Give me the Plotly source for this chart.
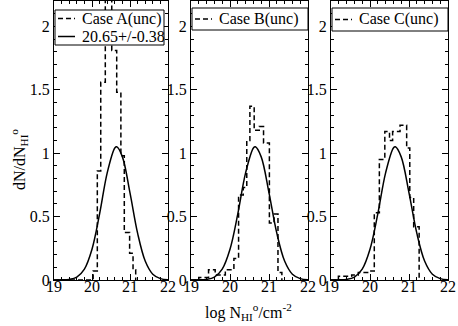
import plotly.graph_objects as go

# histogram edges / heights (dN/dN_HI per bin)
a_edges = [20.03, 20.14, 20.23, 20.35, 20.52, 20.65, 20.76, 20.85, 20.99, 21.08, 21.15]
a_vals = [0.07, 0.86, 1.56, 2.40, 1.81, 1.48, 0.98, 0.375, 0.21, 0.08]

b_edges = [19.20, 19.45, 19.62, 19.88, 20.10, 20.22, 20.34, 20.43, 20.51, 20.62, 20.75,
           20.86, 21.01, 21.13, 21.23, 21.33]
b_vals = [0.02, 0.08, 0.04, 0.08, 0.17, 0.67, 0.73, 1.10, 1.37, 1.18, 1.21, 1.08,
          0.45, 0.52, 0.06]

c_edges = [19.19, 19.53, 19.70, 19.98, 20.11, 20.24, 20.38, 20.50, 20.58, 20.77, 20.94,
           21.02, 21.12, 21.26]
c_vals = [0.03, 0.04, 0.06, 0.07, 0.53, 0.95, 1.17, 1.10, 1.17, 1.22, 1.04, 0.65, 0.42]

# fitted gaussian curve (20.65 +/- 0.38), read at a few points
fit_x = [19.0, 19.2, 19.4, 19.6, 19.8, 20.0, 20.2, 20.4, 20.6, 20.65, 20.8, 21.0,
         21.2, 21.4, 21.6, 21.8, 22.0]
fit_y = [0.0, 0.001, 0.005, 0.023, 0.086, 0.243, 0.521, 0.845, 1.041, 1.05, 0.971, 0.687,
         0.369, 0.150, 0.046, 0.011, 0.002]

case_names = ["Case A(unc)", "Case B(unc)", "Case C(unc)"]
fit_label = "20.65+/-0.38"

W, H = 458, 326
FONT = "Liberation Serif"
DASH = "5px,3px"

# panel pixel boxes (left, right)
panels_px = [(54, 168), (191, 308), (331, 448)]
top_px, bottom_px = 1, 280


def step_xy(edges, vals):
    xs = [19.0, edges[0]] + edges
    ys = [0.0, 0.0] + vals + [0.0]
    return xs, ys


def px_x(v):
    return v / W


def px_y(v):
    return 1 - v / H


fig = go.Figure()
hists = [(a_edges, a_vals), (b_edges, b_vals), (c_edges, c_vals)]

for i, (edges, vals) in enumerate(hists):
    ax = "" if i == 0 else str(i + 1)
    hx, hy = step_xy(edges, vals)
    fig.add_trace(go.Scatter(x=hx, y=hy, mode="lines", line_shape="hv",
                             line=dict(color="black", width=1.5, dash=DASH),
                             name=case_names[i], xaxis="x" + ax, yaxis="y" + ax,
                             showlegend=False))
    fig.add_trace(go.Scatter(x=fit_x, y=fit_y, mode="lines", line_shape="spline",
                             line=dict(color="black", width=1.5),
                             name=fit_label, xaxis="x" + ax, yaxis="y" + ax,
                             showlegend=False))

axis_common = dict(showline=True, linecolor="black", linewidth=1, mirror="allticks",
                   ticks="inside", tickcolor="black", ticklen=6, tickwidth=1,
                   showgrid=False, zeroline=False, automargin=False,
                   tickfont=dict(family=FONT, size=16, color="black"))

ydom = [px_y(bottom_px), px_y(top_px)]
layout = dict(width=W, height=H, margin=dict(l=0, r=0, t=0, b=0, autoexpand=False),
              plot_bgcolor="white", paper_bgcolor="white", showlegend=False,
              font=dict(family=FONT, size=16, color="black"))

for i, (l, r) in enumerate(panels_px):
    ax = "" if i == 0 else str(i + 1)
    layout["xaxis" + ax] = dict(axis_common, domain=[px_x(l), px_x(r)], range=[19, 22],
                                dtick=1, anchor="y" + ax, ticklabelstandoff=-8,
                                minor=dict(dtick=0.2, ticklen=3, ticks="inside",
                                           tickcolor="black", showgrid=False))
    layout["yaxis" + ax] = dict(axis_common, domain=ydom, range=[0, 2.2], dtick=0.5,
                                anchor="x" + ax,
                                minor=dict(dtick=0.1, ticklen=3, ticks="inside",
                                           tickcolor="black", showgrid=False))

fig.update_layout(**layout)

# hand-made legend boxes: (box left, box right, box top, box bottom)
legend_boxes = [(55, 164, 10, 45), (192, 308, 8, 30), (332, 448, 8, 31)]
for i, (bl, br, bt, bb) in enumerate(legend_boxes):
    fig.add_shape(type="rect", xref="paper", yref="paper",
                  x0=px_x(bl), x1=px_x(br), y0=px_y(bb), y1=px_y(bt),
                  fillcolor="white", line=dict(color="black", width=1))
    entries = [(case_names[i], DASH)]
    if i == 0:
        entries.append((fit_label, "solid"))
    for k, (label, dash) in enumerate(entries):
        yc = (bt + bb) / 2 if i > 0 else [18.5, 36.5][k]
        fig.add_shape(type="line", xref="paper", yref="paper",
                      x0=px_x(bl + 3), x1=px_x(bl + 20), y0=px_y(yc), y1=px_y(yc),
                      line=dict(color="black", width=1.5, dash=dash))
        fig.add_annotation(text=label, x=px_x(bl + 25), y=px_y(yc), xref="paper",
                           yref="paper", xanchor="left", yanchor="middle",
                           showarrow=False,
                           font=dict(family=FONT, size=16, color="black"))

fig.add_annotation(text="log N<sub>HI</sub><sup>o</sup>/cm<sup>-2</sup>", x=px_x(248),
                   y=px_y(312), xref="paper", yref="paper", showarrow=False,
                   xanchor="center", yanchor="middle",
                   font=dict(family=FONT, size=16, color="black"))
fig.add_annotation(text="dN/dN<sub>HI</sub><sup>o</sup>", x=px_x(19), y=px_y(160),
                   xref="paper", yref="paper", showarrow=False, textangle=-90,
                   xanchor="center", yanchor="middle",
                   font=dict(family=FONT, size=16, color="black"))

# drop the default body margin so the figure sits at the window's corner
fig.write_html("out.html", config={"displayModeBar": False},
               post_script="document.body.style.margin='0';")
